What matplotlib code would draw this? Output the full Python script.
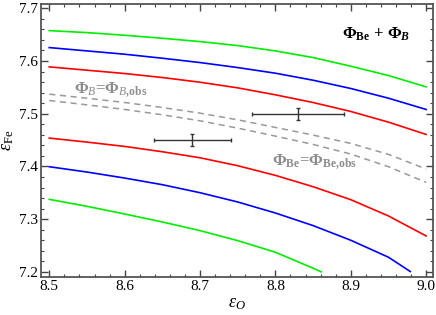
import numpy as np
import matplotlib.pyplot as plt
from matplotlib.ticker import MultipleLocator

plt.rcParams['font.family'] = 'Liberation Serif'
plt.rcParams['mathtext.fontset'] = 'custom'
plt.rcParams['mathtext.rm'] = 'Liberation Serif'
plt.rcParams['mathtext.it'] = 'Liberation Serif:italic'
plt.rcParams['mathtext.bf'] = 'Liberation Serif:bold'
plt.rcParams['mathtext.bfit'] = 'Liberation Serif:bold:italic'

# curves (eps_O -> eps_Fe)
x_full = [8.5, 8.55, 8.6, 8.65, 8.7, 8.75, 8.8, 8.85, 8.9, 8.95, 9.0]
green_top = [7.6577, 7.6539, 7.6489, 7.6432, 7.6369, 7.6293, 7.6192, 7.6066, 7.5902, 7.5725, 7.5510]
blue_top = [7.6255, 7.6192, 7.6129, 7.6053, 7.5971, 7.5876, 7.5769, 7.5636, 7.5479, 7.5295, 7.5081]
red_top = [7.5889, 7.5826, 7.5763, 7.5687, 7.5598, 7.5491, 7.5359, 7.5213, 7.5043, 7.4841, 7.4607]
dash_upper = [7.5371, 7.5295, 7.5213, 7.5119, 7.5011, 7.4885, 7.4740, 7.4595, 7.4437, 7.4229, 7.3951]
dash_lower = [7.5251, 7.5169, 7.5081, 7.4980, 7.4866, 7.4727, 7.4576, 7.4418, 7.4235, 7.3995, 7.3698]
red_bot = [7.4538, 7.4462, 7.4380, 7.4279, 7.4165, 7.4014, 7.3831, 7.3616, 7.3370, 7.3061, 7.2682]
x_blue_bot = [8.5, 8.55, 8.6, 8.65, 8.7, 8.75, 8.8, 8.85, 8.9, 8.95, 8.979]
blue_bot = [7.3995, 7.3894, 7.3780, 7.3654, 7.3502, 7.3326, 7.3117, 7.2878, 7.2600, 7.2278, 7.2006]
x_green_bot = [8.5, 8.55, 8.6, 8.65, 8.7, 8.75, 8.8, 8.85, 8.861]
green_bot = [7.3376, 7.3244, 7.3098, 7.2947, 7.2783, 7.2593, 7.2373, 7.2070, 7.2000]

# observed points with error bars
pt_x = [8.690, 8.830]
pt_y = [7.450, 7.500]
pt_xerr = [0.0505, 0.0605]
pt_yerr = [0.011, 0.011]

fig = plt.figure(figsize=(4.36, 3.15), dpi=100)
ax = fig.add_axes([0.094, 0.121, 0.899, 0.866])

lw = 1.2
green = '#00ee00'
ax.plot(x_full, green_top, color=green, lw=lw)
ax.plot(x_full, blue_top, color='#0000ff', lw=lw)
ax.plot(x_full, red_top, color='#ff0000', lw=lw)
ax.plot(x_full, red_bot, color='#ff0000', lw=lw)
ax.plot(x_blue_bot, blue_bot, color='#0000ff', lw=lw)
ax.plot(x_green_bot, green_bot, color=green, lw=lw)
ax.plot(x_full, dash_upper, color='#999999', lw=1.1, dashes=(4, 3))
ax.plot(x_full, dash_lower, color='#999999', lw=1.1, dashes=(4, 3))

ax.errorbar(pt_x, pt_y, xerr=pt_xerr, yerr=pt_yerr, fmt='none',
            ecolor='#333333', elinewidth=1.0, capsize=1.5, capthick=1.0)

ax.text(8.888, 7.650, r'$\mathbf{\Phi}_{\mathbf{Be}}$ + $\mathbf{\Phi}_{\mathbfit{B}}$',
        fontsize=12, fontweight='bold', color='black', va='center')
ax.text(8.533, 7.546, r'$\mathbf{\Phi}_{B}$=$\mathbf{\Phi}_{B\mathbf{{,}obs}}$',
        fontsize=12, fontweight='bold', color='#8c8c8c', va='center')
ax.text(8.796, 7.409, r'$\mathbf{\Phi}_{\mathbf{Be}}$=$\mathbf{\Phi}_{\mathbf{Be{,}obs}}$',
        fontsize=12, fontweight='bold', color='#8c8c8c', va='center')

ax.set_xlim(8.489, 9.009)
ax.set_ylim(7.1905, 7.708)
ax.xaxis.set_major_locator(MultipleLocator(0.1))
ax.xaxis.set_minor_locator(MultipleLocator(0.02))
ax.yaxis.set_major_locator(MultipleLocator(0.1))
ax.yaxis.set_minor_locator(MultipleLocator(0.02))
ax.tick_params(which='both', direction='in', top=True, right=True,
               color='#444444', labelsize=11, pad=2)
ax.tick_params(which='major', length=5, width=1.0)
ax.tick_params(which='minor', length=2.5, width=0.8)
for s in ax.spines.values():
    s.set_color('#555555')
    s.set_linewidth(1.3)

ax.set_xlabel(r'$\varepsilon_O$', fontsize=13, labelpad=2)
ax.set_ylabel(r'$\varepsilon_{\rm Fe}$', fontsize=13, labelpad=2)

fig.savefig('out.png', dpi=100)
